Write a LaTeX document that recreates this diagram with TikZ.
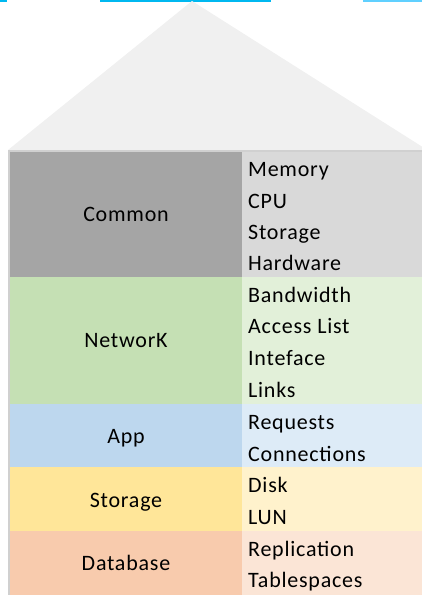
\documentclass[tikz,border=0pt]{standalone}
\usepackage{fontspec}
\setmainfont{Carlito}[LetterSpace=3.5]
\definecolor{roofc}{HTML}{F0F0F0}
\definecolor{framec}{HTML}{D0D0D0}
\definecolor{cyanA}{HTML}{00B8F0}
\definecolor{cyanB}{HTML}{60D0FF}
\definecolor{comL}{HTML}{A5A5A5}
\definecolor{comR}{HTML}{D9D9D9}
\definecolor{netL}{HTML}{C5E0B4}
\definecolor{netR}{HTML}{E2F0D9}
\definecolor{appL}{HTML}{BDD7EE}
\definecolor{appR}{HTML}{DDEBF7}
\definecolor{stoL}{HTML}{FFE699}
\definecolor{stoR}{HTML}{FFF2CC}
\definecolor{dbL}{HTML}{F8CBAD}
\definecolor{dbR}{HTML}{FBE5D6}
\begin{document}
\begin{tikzpicture}[x=1pt,y=-1pt,
  txt/.style={inner sep=0pt,font=\fontsize{22}{26}\selectfont,text=black},
  lbl/.style={txt,anchor=base},
  itm/.style={txt,anchor=base west}]
\useasboundingbox (0,0) rectangle (422,595);
% top lines
\fill[cyanA] (0,0) rectangle (7,1.6);
\fill[cyanA] (100,0) rectangle (271,1.6);
\fill[cyanB] (363,0) rectangle (422,1.6);
% roof
\fill[roofc] (8,150) -- (192,1) -- (422,146.6) -- (422,150) -- cycle;
% frame
\fill[framec] (8,150) rectangle (422,595);
% rows
\fill[comL] (10,152) rectangle (242,277);
\fill[comR] (242,152) rectangle (422,277);
\fill[netL] (10,277) rectangle (242,404);
\fill[netR] (242,277) rectangle (422,404);
\fill[appL] (10,404) rectangle (242,467);
\fill[appR] (242,404) rectangle (422,467);
\fill[stoL] (10,467) rectangle (242,531);
\fill[stoR] (242,467) rectangle (422,531);
\fill[dbL] (10,531) rectangle (242,595);
\fill[dbR] (242,531) rectangle (422,595);
% labels
\node[lbl] (common) at (126,221.5) {Common};
\node[lbl] (network) at (126,347.5) {NetworK};
\node[lbl] (app) at (126,443) {App};
\node[lbl] (storage) at (126,507) {Storage};
\node[lbl] (database) at (126,570) {Database};
% items
\node[itm] (memory) at (248,176.5) {Memory};
\node[itm] (cpu) at (248,208) {CPU};
\node[itm] (storageitem) at (248,239.5) {Storage};
\node[itm] (hardware) at (248,270.5) {Hardware};
\node[itm] (bandwidth) at (248,302) {Bandwidth};
\node[itm] (access) at (248,333.5) {Access List};
\node[itm] (inteface) at (248,365.5) {Inteface};
\node[itm] (links) at (248,397) {Links};
\node[itm] (requests) at (248,429.5) {Requests};
\node[itm] (connections) at (248,461) {Connections};
\node[itm] (disk) at (248,492) {Disk};
\node[itm] (lun) at (248,524) {LUN};
\node[itm] (replication) at (248,556) {Replication};
\node[itm] (tablespaces) at (248,587.5) {Tablespaces};
\end{tikzpicture}
\end{document}
